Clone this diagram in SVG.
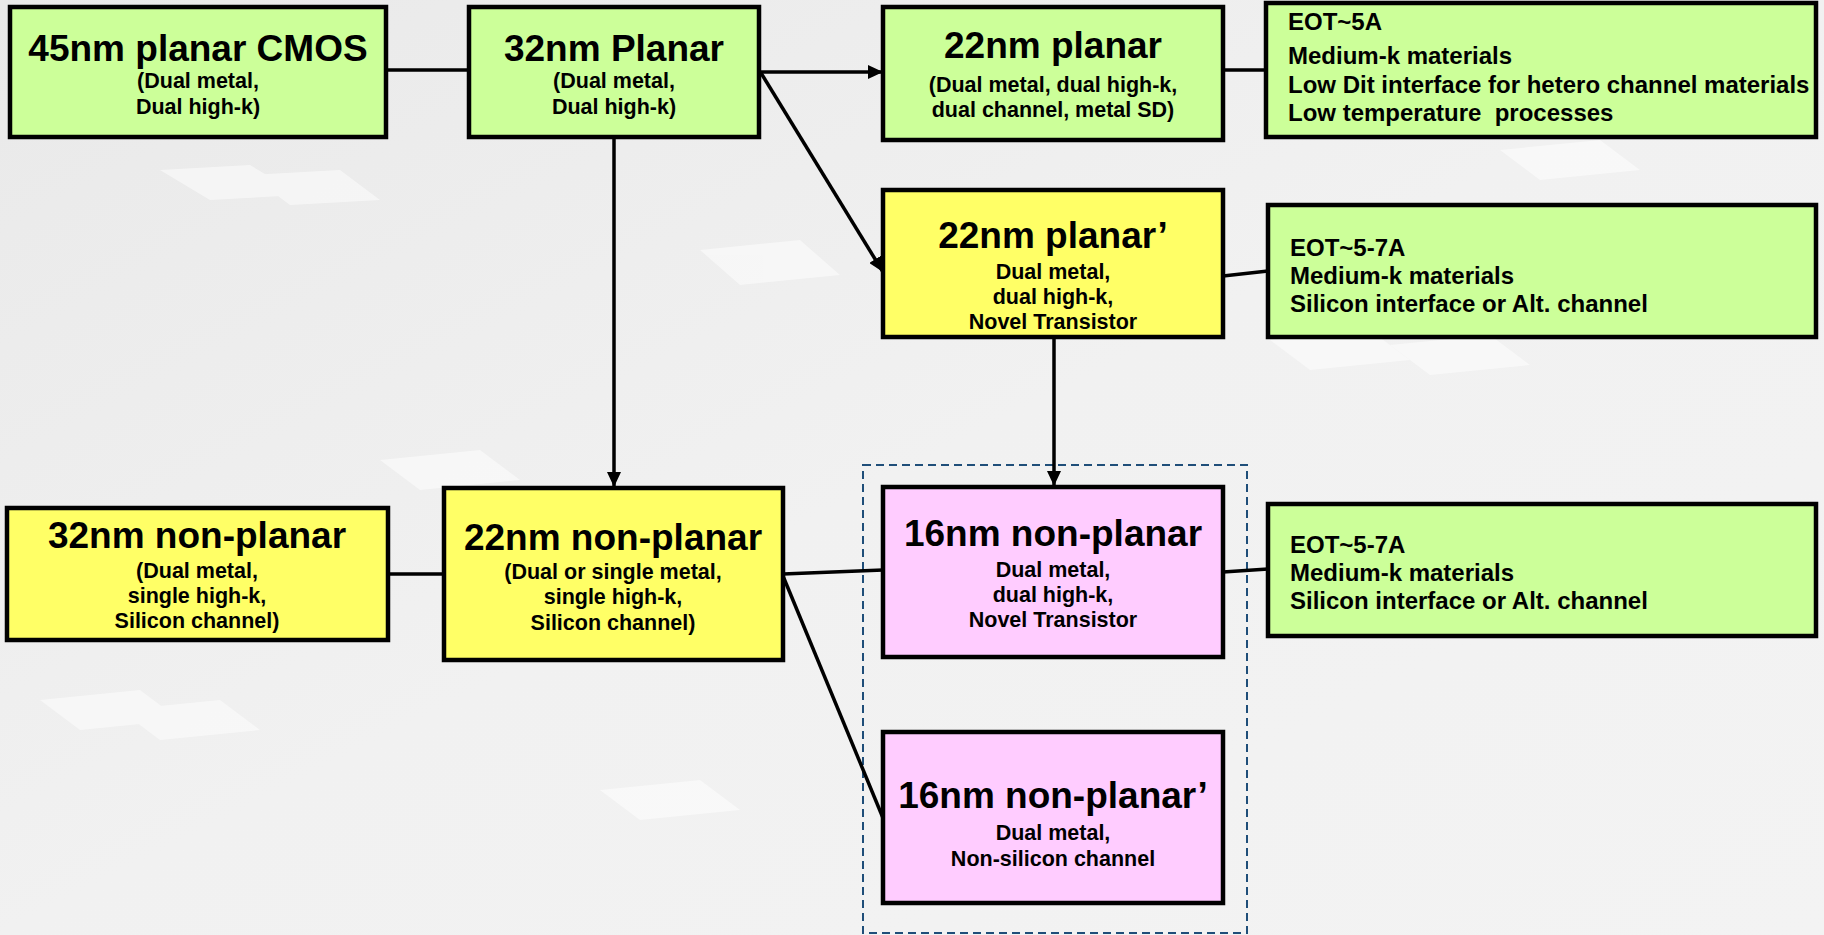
<svg xmlns="http://www.w3.org/2000/svg" width="1824" height="935" viewBox="0 0 1824 935">
<defs>
<linearGradient id="bg" x1="0" y1="0" x2="1" y2="1">
<stop offset="0" stop-color="#e9e9e9"/>
<stop offset="0.5" stop-color="#f1f1f1"/>
<stop offset="1" stop-color="#f3f3f3"/>
</linearGradient>
<marker id="arr" markerUnits="userSpaceOnUse" markerWidth="16" markerHeight="14" refX="15" refY="7" orient="auto">
<path d="M0,0 L15,7 L0,14 z" fill="#000"/>
</marker>
<style>
.box{stroke:#000;stroke-width:4.5}
.green{fill:#ccff99}
.yellow{fill:#ffff66}
.pink{fill:#ffccff}
.title{font-family:"Liberation Sans",Arial,sans-serif;font-weight:bold;font-size:37px;text-anchor:middle;fill:#000}
.sub{font-family:"Liberation Sans",Arial,sans-serif;font-weight:bold;font-size:21.5px;text-anchor:middle;fill:#000}
.note{font-family:"Liberation Sans",Arial,sans-serif;font-weight:bold;font-size:24px;fill:#000}
.conn{stroke:#000;stroke-width:3.5;fill:none}
.dash{stroke:#1f4e79;stroke-width:2;fill:none;stroke-dasharray:8 5}
</style>
</defs>
<rect x="0" y="0" width="1824" height="935" fill="url(#bg)"/>
<g opacity="0.5" fill="#ffffff">
<polygon points="160,170 250,165 300,195 210,200"/>
<polygon points="250,175 340,170 380,200 290,205"/>
<polygon points="700,250 800,240 840,275 740,285"/>
<polygon points="1270,340 1370,330 1410,360 1310,370"/>
<polygon points="1390,345 1490,335 1530,365 1430,375"/>
<polygon points="1500,150 1600,140 1640,170 1540,180"/>
<polygon points="380,460 480,450 520,480 420,490"/>
<polygon points="40,700 140,690 180,720 80,730"/>
<polygon points="120,710 220,700 260,730 160,740"/>
<polygon points="600,790 700,780 740,810 640,820"/>
</g>

<rect id="group-16nm" class="dash" x="863" y="465" width="384" height="468"/>

<g id="connectors">
<line class="conn" x1="386" y1="70" x2="469" y2="70"/>
<line class="conn" x1="759" y1="72" x2="883" y2="72" marker-end="url(#arr)"/>
<line class="conn" x1="1223" y1="70" x2="1266" y2="70"/>
<line class="conn" x1="761" y1="73" x2="883" y2="272" marker-end="url(#arr)"/>
<line class="conn" x1="614" y1="137" x2="614" y2="487" marker-end="url(#arr)"/>
<line class="conn" x1="1223" y1="276" x2="1268" y2="271"/>
<line class="conn" x1="1054" y1="337" x2="1054" y2="486" marker-end="url(#arr)"/>
<line class="conn" x1="388" y1="574" x2="444" y2="574"/>
<line class="conn" x1="783" y1="574" x2="883" y2="570"/>
<line class="conn" x1="1223" y1="572" x2="1268" y2="569"/>
<line class="conn" x1="783" y1="576" x2="883" y2="818"/>
</g>

<g id="n45planar">
<rect class="box green" x="10" y="7" width="376" height="130"/>
<text class="title" x="198" y="61">45nm planar CMOS</text>
<text class="sub" x="198" y="88">(Dual metal,</text>
<text class="sub" x="198" y="114">Dual high-k)</text>
</g>

<g id="n32planar">
<rect class="box green" x="469" y="7" width="290" height="130"/>
<text class="title" x="614" y="61">32nm Planar</text>
<text class="sub" x="614" y="88">(Dual metal,</text>
<text class="sub" x="614" y="114">Dual high-k)</text>
</g>

<g id="n22planar">
<rect class="box green" x="883" y="7" width="340" height="133"/>
<text class="title" x="1053" y="58">22nm planar</text>
<text class="sub" x="1053" y="92">(Dual metal, dual high-k,</text>
<text class="sub" x="1053" y="117">dual channel, metal SD)</text>
</g>

<g id="eot1">
<rect class="box green" x="1266" y="3" width="550" height="134"/>
<text class="note" x="1288" y="30">EOT~5A</text>
<text class="note" x="1288" y="64">Medium-k materials</text>
<text class="note" x="1288" y="93">Low Dit interface for hetero channel materials</text>
<text class="note" x="1288" y="121" xml:space="preserve">Low temperature  processes</text>
</g>

<g id="n22planarp">
<rect class="box yellow" x="883" y="190" width="340" height="147"/>
<text class="title" x="1053" y="248">22nm planar’</text>
<text class="sub" x="1053" y="279">Dual metal,</text>
<text class="sub" x="1053" y="304">dual high-k,</text>
<text class="sub" x="1053" y="329">Novel Transistor</text>
</g>

<g id="eot2">
<rect class="box green" x="1268" y="205" width="548" height="132"/>
<text class="note" x="1290" y="256">EOT~5-7A</text>
<text class="note" x="1290" y="284">Medium-k materials</text>
<text class="note" x="1290" y="312">Silicon interface or Alt. channel</text>
</g>

<g id="n32nonplanar">
<rect class="box yellow" x="7" y="508" width="381" height="132"/>
<text class="title" x="197" y="548">32nm non-planar</text>
<text class="sub" x="197" y="578">(Dual metal,</text>
<text class="sub" x="197" y="603">single high-k,</text>
<text class="sub" x="197" y="628">Silicon channel)</text>
</g>

<g id="n22nonplanar">
<rect class="box yellow" x="444" y="488" width="339" height="172"/>
<text class="title" x="613" y="550">22nm non-planar</text>
<text class="sub" x="613" y="579">(Dual or single metal,</text>
<text class="sub" x="613" y="604">single high-k,</text>
<text class="sub" x="613" y="630">Silicon channel)</text>
</g>

<g id="n16nonplanar">
<rect class="box pink" x="883" y="487" width="340" height="170"/>
<text class="title" x="1053" y="546">16nm non-planar</text>
<text class="sub" x="1053" y="577">Dual metal,</text>
<text class="sub" x="1053" y="602">dual high-k,</text>
<text class="sub" x="1053" y="627">Novel Transistor</text>
</g>

<g id="eot3">
<rect class="box green" x="1268" y="504" width="548" height="132"/>
<text class="note" x="1290" y="553">EOT~5-7A</text>
<text class="note" x="1290" y="581">Medium-k materials</text>
<text class="note" x="1290" y="609">Silicon interface or Alt. channel</text>
</g>

<g id="n16nonplanarp">
<rect class="box pink" x="883" y="732" width="340" height="171"/>
<text class="title" x="1053" y="808">16nm non-planar’</text>
<text class="sub" x="1053" y="840">Dual metal,</text>
<text class="sub" x="1053" y="866">Non-silicon channel</text>
</g>
</svg>
